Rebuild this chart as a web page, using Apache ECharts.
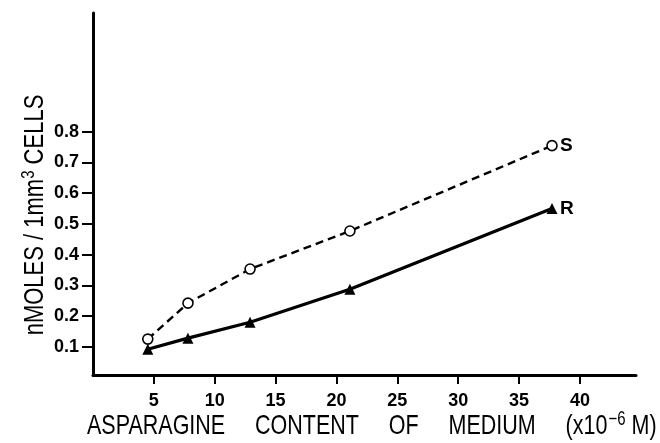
<!DOCTYPE html>
<html>
<head>
<meta charset="utf-8">
<script src="https://cdn.jsdelivr.net/npm/echarts@6/dist/echarts.min.js"></script>
<style>
html,body{margin:0;padding:0;background:#fff;}
#chart{width:660px;height:443px;}
</style>
</head>
<body>
<div id="chart"></div>
<script>
// Data
const xValues = [4.5, 7.8, 12.9, 21.1, 37.7];
const sValues = [0.125, 0.242, 0.353, 0.477, 0.755];
const rValues = [0.092, 0.128, 0.180, 0.287, 0.550];
const xTickValues = [5, 10, 15, 20, 25, 30, 35, 40];
const yTickValues = [0.1, 0.2, 0.3, 0.4, 0.5, 0.6, 0.7, 0.8];
const seriesNames = ['S', 'R'];

const FONT = '"Liberation Sans", Arial, sans-serif';
const chart = echarts.init(document.getElementById('chart'), null, {renderer: 'canvas'});

const pairs = (ys) => xValues.map((x, i) => [x, ys[i]]);

chart.setOption({
  animation: false,
  backgroundColor: '#fff',
  grid: {left: 93, right: 24, top: 13, bottom: 68},
  xAxis: {
    type: 'value', min: 0, max: 44.6,
    axisLine: {show: true, lineStyle: {color: '#000', width: 3}},
    axisTick: {show: true, customValues: xTickValues, length: 9, lineStyle: {color: '#000', width: 2}},
    axisLabel: {show: true, customValues: xTickValues, color: '#000', fontSize: 18, fontWeight: 'bold', fontFamily: FONT, margin: 17},
    splitLine: {show: false}
  },
  yAxis: {
    type: 'value', min: 0.008, max: 1.187,
    axisLine: {show: true, lineStyle: {color: '#000', width: 3}},
    axisTick: {show: true, customValues: yTickValues, length: 11, lineStyle: {color: '#000', width: 2}},
    axisLabel: {show: true, customValues: yTickValues, formatter: (v) => v.toFixed(1), color: '#000', fontSize: 18, fontWeight: 'bold', fontFamily: FONT, margin: 14},
    splitLine: {show: false}
  },
  series: [
    {
      name: seriesNames[0], type: 'line', data: pairs(sValues),
      symbol: 'circle', symbolSize: 10,
      itemStyle: {color: '#fff', borderColor: '#000', borderWidth: 1.6},
      lineStyle: {color: '#000', width: 2.4, type: [8, 5]},
      endLabel: {show: true, formatter: seriesNames[0], color: '#000', fontSize: 19, fontWeight: 'bold', fontFamily: FONT, distance: 8},
      z: 3
    },
    {
      name: seriesNames[1], type: 'line', data: pairs(rValues),
      symbol: 'triangle', symbolSize: 11,
      itemStyle: {color: '#000', borderColor: '#000', borderWidth: 0},
      lineStyle: {color: '#000', width: 3.2},
      endLabel: {show: true, formatter: seriesNames[1], color: '#000', fontSize: 19, fontWeight: 'bold', fontFamily: FONT, distance: 8},
      z: 2
    }
  ],
  graphic: [
    {
      type: 'text', x: 87, y: 426, scaleY: 1.3,
      style: {
        text: '{t|ASPARAGINE     CONTENT     OF     MEDIUM     (x10}{sup|−6}{t| M)}',
        align: 'left', verticalAlign: 'middle',
        rich: {
          t: {fontSize: 21.5, fontFamily: FONT, color: '#000'},
          sup: {fontSize: 15, fontFamily: FONT, color: '#000', padding: [0, 0, 10, 1]}
        }
      }
    },
    {
      type: 'text', x: 35, y: 215, rotation: Math.PI / 2, scaleY: 1.25,
      style: {
        text: '{t|nMOLES / 1mm}{sup|3}{t| CELLS}',
        align: 'center', verticalAlign: 'middle',
        rich: {
          t: {fontSize: 22, fontFamily: FONT, color: '#000'},
          sup: {fontSize: 15, fontFamily: FONT, color: '#000', padding: [0, 0, 10, 0]}
        }
      }
    }
  ]
});
</script>
</body>
</html>
